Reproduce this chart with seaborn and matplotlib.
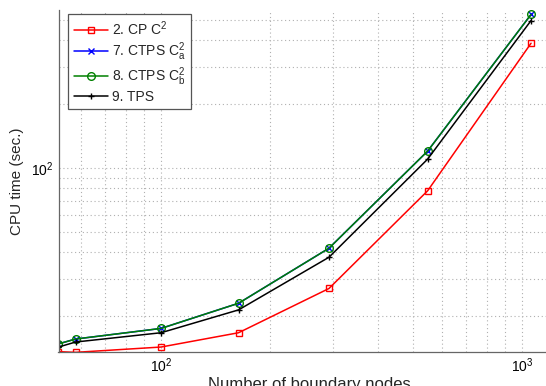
import numpy as np
import pandas as pd
import matplotlib
matplotlib.use("Agg")
import matplotlib.pyplot as plt
from matplotlib.ticker import NullFormatter, LogLocator
import seaborn as sns

# Number of boundary nodes and CPU times (seconds) per method
nodes = [52, 58, 100, 164, 292, 548, 1060]
cp_c2 = [13.6, 13.5, 14.3, 16.7, 27.0, 78.0, 387.0]
ctps_ca2 = [14.8, 15.6, 17.5, 23.0, 41.8, 120.0, 529.0]
ctps_cb2 = [14.8, 15.6, 17.5, 23.0, 41.8, 120.0, 529.0]
tps = [14.3, 15.1, 16.7, 21.4, 37.9, 110.0, 495.0]

labels = [r"2. CP C$^2$", r"7. CTPS C$_\mathrm{a}^2$", r"8. CTPS C$_\mathrm{b}^2$", "9. TPS"]
colors = ["#ff0000", "#0000ff", "#008000", "#000000"]
markers = ["s", "x", "o", "+"]

sns.set_theme(style="white")
plt.rcParams["font.family"] = ["Liberation Sans", "DejaVu Sans"]
plt.rcParams["mathtext.fontset"] = "custom"
plt.rcParams["mathtext.rm"] = "Liberation Sans"
plt.rcParams["mathtext.it"] = "Liberation Sans:italic"

df = pd.DataFrame({
    "nodes": nodes * 4,
    "time": cp_c2 + ctps_ca2 + ctps_cb2 + tps,
    "method": sum([[lab] * len(nodes) for lab in labels], []),
})

fig = plt.figure(figsize=(5.46, 3.86), dpi=100)
ax = fig.add_axes([58.5 / 546, 34 / 386, (561 - 58.5) / 546, 342 / 386])

for lab, col, mk in zip(labels, colors, markers):
    sub = df[df["method"] == lab]
    sns.lineplot(data=sub, x="nodes", y="time", ax=ax, color=col, marker=mk,
                 markersize=5 if mk != "o" else 5.5, markeredgecolor=col,
                 markerfacecolor="none", markeredgewidth=1.0, linewidth=1.1,
                 label=lab, legend=False, estimator=None, sort=False)

ax.set_xscale("log")
ax.set_yscale("log")
ax.set_xlim(52, 1283)
ax.set_ylim(13.55, 555)

ax.xaxis.set_minor_locator(LogLocator(base=10, subs=np.arange(2, 10)))
ax.yaxis.set_minor_locator(LogLocator(base=10, subs=np.arange(2, 10)))
ax.xaxis.set_minor_formatter(NullFormatter())
ax.yaxis.set_minor_formatter(NullFormatter())

ax.grid(True, which="both", linestyle=(0, (1, 2.5)), color="#b0b0b0", linewidth=0.8)
ax.set_axisbelow(True)

for side in ["top", "right"]:
    ax.spines[side].set_visible(False)
for side in ["left", "bottom"]:
    ax.spines[side].set_color("#666666")
    ax.spines[side].set_linewidth(0.9)

ax.tick_params(which="both", direction="in", colors="#666666", labelcolor="black",
               labelsize=10, pad=3.5)
ax.tick_params(which="major", length=4, width=0.8)
ax.tick_params(which="minor", length=2.5, width=0.6)

ax.set_xlabel("Number of boundary nodes", fontsize=12, labelpad=1)
ax.set_ylabel("CPU time (sec.)", fontsize=11, labelpad=5)

leg = ax.legend(loc="upper left", bbox_to_anchor=(0.019, 0.988), borderaxespad=0,
                fontsize=10, frameon=True, fancybox=False, framealpha=1,
                edgecolor="#555555", handlelength=2.45, handletextpad=0.3,
                labelspacing=0.15, borderpad=0.4, numpoints=1)
leg.get_frame().set_linewidth(0.9)

fig.savefig("out.png", dpi=100)
